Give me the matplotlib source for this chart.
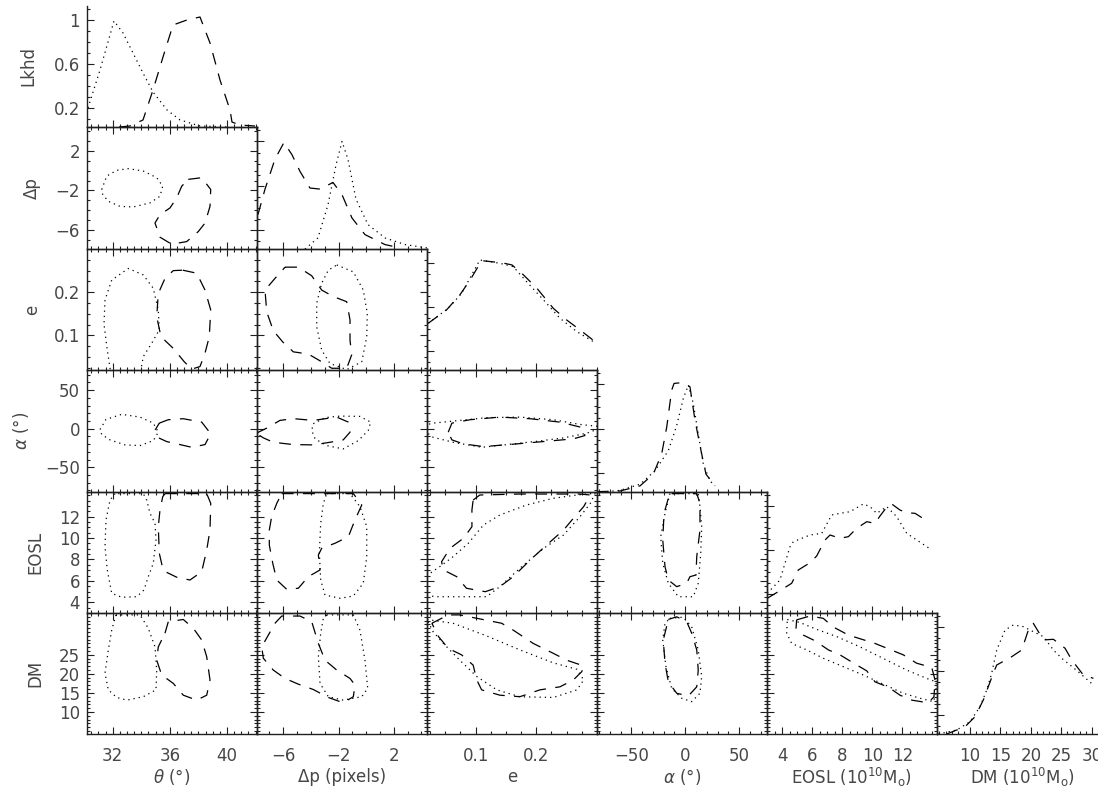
import matplotlib
matplotlib.use("Agg")
import matplotlib.pyplot as plt
from matplotlib.ticker import FixedLocator, MultipleLocator, FuncFormatter

plt.rcParams['font.family'] = ['DejaVu Sans']
plt.rcParams['mathtext.fontset'] = 'dejavusans'

# ---------------- axis definitions ----------------
x_limits = [(30.2, 42.1), (-7.9, 4.4), (0.02, 0.30), (-82, 76), (3.0, 14.3), (4.6, 32.5)]
y_limits = [(0.03, 1.13), (-7.9, 4.4), (0.02, 0.30), (-82, 76), (3.0, 14.3), (4.2, 36.0)]
x_major = [[32, 36, 40], [-6, -2, 2], [0.1, 0.2], [-50, 0, 50], [4, 6, 8, 10, 12], [10, 15, 20, 25, 30]]
y_major = [[0.2, 0.6, 1.0], [-6, -2, 2], [0.1, 0.2], [-50, 0, 50], [4, 6, 8, 10, 12], [10, 15, 20, 25]]
minor_step = [0.5, 1, 0.025, 10, 0.5, 1]
lk_minor = 0.1
x_titles = [r"$\theta$ (°)", "Δp (pixels)", "e", r"$\alpha$ (°)",
            r"EOSL (10$^{10}$M$_{\rm o}$)", r"DM (10$^{10}$M$_{\rm o}$)"]
y_titles = ["Lkhd", "Δp", "e", r"$\alpha$ (°)", "EOSL", "DM"]

# ---------------- 1-D likelihood profiles (diagonal) ----------------
lk_th_dot = [[30.27, 0.203], [31.11, 0.548], [32.09, 0.994], [32.72, 0.885], [33.42, 0.703],
             [34.12, 0.521], [34.82, 0.348], [35.8, 0.185], [36.71, 0.094], [38.11, 0.039], [40.2, 0.03]]
lk_th_dash = [[32.45, 0.03], [33.21, 0.039], [34.12, 0.094], [34.82, 0.366], [35.52, 0.666],
              [36.22, 0.957], [37.2, 1.003], [38.11, 1.03], [38.81, 0.794], [39.51, 0.457],
              [40.21, 0.185], [40.35, 0.075], [40.91, 0.048], [41.96, 0.039]]
lk_dp_dot = [[-4.43, 0.03], [-3.49, 0.13], [-2.76, 0.43], [-2.18, 0.79], [-1.75, 1.0], [-1.32, 0.84],
             [-0.74, 0.48], [0.13, 0.25], [1.36, 0.13], [2.81, 0.07], [4.4, 0.04]]
lk_dp_dash = [[-7.83, 0.34], [-7.32, 0.57], [-6.6, 0.84], [-5.95, 0.99], [-5.37, 0.88], [-4.79, 0.73],
              [-4.07, 0.58], [-3.34, 0.57], [-2.4, 0.63], [-1.75, 0.52], [-1.03, 0.31], [-0.09, 0.16],
              [1.36, 0.07], [2.45, 0.04]]
lk_e_dot = [[0.022, 0.455], [0.055, 0.591], [0.077, 0.727], [0.107, 1.03], [0.14, 1.0], [0.162, 0.97],
            [0.184, 0.833], [0.212, 0.666], [0.239, 0.5], [0.267, 0.378], [0.297, 0.278]]
lk_e_dash = [[0.022, 0.455], [0.052, 0.575], [0.074, 0.712], [0.091, 0.848], [0.11, 1.024],
             [0.143, 1.005], [0.16, 0.985], [0.179, 0.894], [0.201, 0.773], [0.228, 0.591],
             [0.25, 0.485], [0.272, 0.394], [0.297, 0.287]]
lk_al_dot = [[-82.3, 0.024], [-60.6, 0.045], [-42, 0.1], [-28.1, 0.221], [-15.7, 0.403], [-7.9, 0.63],
             [-1.8, 0.873], [2.9, 0.994], [7.5, 0.827], [12.1, 0.555], [16.8, 0.282], [23.0, 0.13],
             [27.7, 0.085]]
lk_al_dash = [[-82.3, 0.033], [-60.6, 0.039], [-42, 0.085], [-29.7, 0.191], [-21.9, 0.373],
              [-17.2, 0.615], [-12.6, 0.948], [-10.4, 1.009], [-4.2, 1.015], [4.4, 0.979],
              [9.1, 0.675], [15.3, 0.373], [19.3, 0.191], [27.7, 0.085]]
lk_eo_dot = [[3.02, 0.209], [3.86, 0.33], [4.53, 0.633], [4.75, 0.678], [5.86, 0.739], [6.64, 0.754],
             [7.3, 0.921], [7.85, 0.936], [8.52, 0.951], [9.4, 1.021], [9.85, 0.997], [10.29, 0.936],
             [10.96, 0.997], [11.62, 0.906], [12.29, 0.754], [12.95, 0.694], [13.95, 0.603]]
lk_eo_dash = [[3.02, 0.164], [3.75, 0.224], [4.64, 0.3], [5.08, 0.421], [5.86, 0.487], [6.3, 0.548],
              [6.86, 0.694], [7.19, 0.739], [7.85, 0.709], [8.41, 0.724], [8.96, 0.8], [9.63, 0.86],
              [10.18, 0.845], [10.51, 0.912], [11.07, 1.012], [11.29, 1.021], [11.84, 0.966],
              [12.29, 0.942], [12.84, 0.936], [13.62, 0.869]]
lk_dm_dot = [[4.82, 0.03], [7.83, 0.066], [10.02, 0.142], [11.66, 0.278], [12.76, 0.43], [13.58, 0.582],
             [14.4, 0.794], [15.77, 0.975], [17.13, 1.021], [18.77, 1.006], [20.41, 0.96], [22.06, 0.915],
             [23.7, 0.794], [25.07, 0.718], [26.44, 0.657], [28.08, 0.582], [30.27, 0.475]]
lk_dm_dash = [[6.19, 0.03], [9.2, 0.096], [10.84, 0.187], [12.2, 0.339], [13.84, 0.582], [14.4, 0.657],
              [16.87, 0.733], [18.51, 0.794], [19.87, 1.021], [20.41, 1.036], [22.06, 0.885],
              [23.7, 0.891], [25.62, 0.809], [26.72, 0.703], [28.62, 0.566], [30.27, 0.536]]

# ---------------- 2-D confidence contours (off-diagonal) ----------------
th_dp_dot = [[31.23, -1.9], [31.58, -0.55], [32.28, 0.03], [33.09, 0.2], [34.14, -0.04], [35.08, -0.71],
             [35.5, -1.56], [35.31, -2.58], [34.61, -3.25], [33.44, -3.66], [32.51, -3.6], [31.69, -3.09],
             [31.3, -2.4]]
th_dp_dash = [[37.29, -0.88], [38.23, -0.71], [38.86, -1.9], [38.81, -3.6], [38.46, -5.29], [37.99, -6.14],
              [37.18, -7.15], [36.13, -7.42], [35.31, -6.71], [34.96, -5.28], [35.31, -4.44],
              [36.01, -3.76], [36.48, -2.74], [36.83, -1.57]]
th_e_dot = [[31.88, 0.01], [31.62, 0.066], [31.39, 0.126], [31.46, 0.182], [31.93, 0.228], [33.09, 0.255],
            [34.14, 0.24], [34.84, 0.209], [35.19, 0.159], [35.26, 0.113], [34.73, 0.082], [34.14, 0.051],
            [33.91, 0.01]]
th_e_dash = [[36.9, 0.251], [37.88, 0.244], [38.46, 0.205], [38.86, 0.159], [38.76, 0.097], [38.46, 0.059],
             [38.11, 0.028], [37.53, 0.022], [37.01, 0.039], [36.24, 0.07], [35.38, 0.097], [35.08, 0.143],
             [35.19, 0.197], [35.66, 0.232], [36.24, 0.25]]
dp_e_dot = [[-2.13, 0.263], [-0.93, 0.247], [-0.21, 0.205], [0.08, 0.151], [0.04, 0.097], [-0.32, 0.039],
            [-1.41, 0.021], [-2.62, 0.035], [-3.22, 0.066], [-3.58, 0.12], [-3.58, 0.174], [-3.22, 0.221],
            [-2.74, 0.251]]
dp_e_dash = [[-5.87, 0.258], [-4.91, 0.258], [-3.94, 0.238], [-3.22, 0.205], [-2.38, 0.19], [-1.41, 0.178],
             [-1.17, 0.136], [-1.17, 0.089], [-1.05, 0.055], [-1.41, 0.024], [-2.49, 0.024], [-3.22, 0.039],
             [-4.19, 0.057], [-5.27, 0.062], [-6.04, 0.085], [-6.72, 0.111], [-7.2, 0.155], [-7.32, 0.205],
             [-6.6, 0.232]]
th_al_dot = [[31.11, -1.0], [31.53, 12.0], [32.63, 18.6], [33.91, 15.0], [34.84, 7.2], [35.19, -4.5],
             [34.84, -15.4], [33.91, -21.9], [32.86, -21.0], [31.81, -14.5], [31.23, -7.5]]
th_al_dash = [[35.26, 7.2], [35.89, 11.6], [36.94, 12.9], [38.23, 8.5], [38.86, -6.6], [38.46, -20.6],
              [37.53, -24.1], [36.71, -20.6], [35.78, -16.7], [35.12, -11.1], [34.98, -1.4]]
dp_al_dot = [[-3.83, 6.4], [-2.98, 14.3], [-1.89, 16.3], [-0.45, 15.9], [0.33, 8.5], [0.15, -2.3],
             [-0.57, -15.4], [-1.66, -26.2], [-2.86, -21.9], [-3.7, -13.2], [-3.94, -2.3]]
dp_al_dash = [[-7.95, -5.9], [-7.2, 0.7], [-6.24, 10.7], [-5.27, 13.0], [-3.83, 10.7], [-2.13, 15.0],
              [-1.29, 8.5], [-1.17, -4.5], [-1.66, -14.5], [-2.62, -17.6], [-3.83, -21.0], [-5.27, -20.6],
              [-6.72, -17.6], [-7.44, -11.9]]
e_al_dot = [[0.015, 4.2], [0.03, 7.2], [0.063, 9.8], [0.118, 14.3], [0.173, 15.0], [0.228, 11.6],
            [0.272, 5.5], [0.303, 2.9], [0.303, -0.1], [0.283, -5.9], [0.245, -11.9], [0.201, -16.3],
            [0.152, -20.6], [0.11, -24.1], [0.063, -17.6], [0.03, -11.1], [0.015, -2.3]]
e_al_dash = [[0.055, -4.5], [0.061, 7.2], [0.091, 11.6], [0.14, 15.0], [0.19, 12.9], [0.239, 8.5],
             [0.277, 1.2], [0.28, -8.9], [0.261, -13.2], [0.217, -16.3], [0.168, -19.7], [0.113, -23.2],
             [0.08, -19.7], [0.061, -14.5]]
th_eo_dot = [[32.16, 14.15], [31.81, 13.55], [31.53, 11.69], [31.46, 9.19], [31.62, 7.02], [31.93, 4.84],
             [32.63, 4.47], [33.68, 4.52], [34.19, 5.15], [34.49, 6.39], [34.84, 7.64], [35.03, 9.82],
             [34.96, 11.38], [34.61, 12.31], [34.38, 13.55], [34.14, 14.15]]
th_eo_dash = [[35.66, 14.15], [38.58, 14.15], [38.86, 13.24], [38.81, 10.75], [38.58, 8.88], [38.23, 6.86],
              [37.41, 6.08], [36.48, 6.34], [35.54, 6.95], [35.26, 8.58], [35.19, 11.06], [35.31, 12.62],
              [35.5, 13.86]]
dp_eo_dot = [[-2.86, 14.15], [-1.17, 14.15], [-0.45, 12.93], [0.04, 11.06], [0.04, 8.26], [-0.21, 5.78],
             [-0.93, 4.59], [-1.89, 4.37], [-2.98, 4.68], [-3.29, 6.08], [-3.39, 8.58], [-3.29, 11.38],
             [-3.1, 13.24]]
dp_eo_dash = [[-6.11, 14.15], [-0.93, 14.15], [-0.32, 13.09], [-0.81, 11.69], [-1.29, 10.13], [-2.26, 9.51],
              [-3.22, 9.04], [-3.46, 8.42], [-3.34, 7.02], [-4.19, 6.39], [-4.91, 5.31], [-5.75, 5.21],
              [-6.47, 6.08], [-6.76, 7.64], [-7.01, 9.35], [-7.01, 10.75], [-6.84, 11.99], [-6.47, 13.24]]
e_eo_dot = [[0.012, 6.2], [0.041, 7.33], [0.063, 8.26], [0.088, 9.51], [0.113, 11.22], [0.14, 12.15],
            [0.184, 13.09], [0.228, 13.71], [0.267, 14.02], [0.297, 14.18], [0.289, 13.24], [0.272, 11.99],
            [0.245, 10.29], [0.212, 9.04], [0.173, 7.18], [0.14, 5.46], [0.118, 4.52], [0.074, 4.52],
            [0.036, 4.52], [0.012, 4.68]]
e_eo_dash = [[0.096, 13.55], [0.107, 14.02], [0.173, 14.11], [0.272, 14.11], [0.289, 14.02], [0.278, 12.93],
             [0.261, 11.84], [0.245, 10.75], [0.217, 9.35], [0.19, 7.95], [0.162, 6.39], [0.14, 5.46],
             [0.116, 4.99], [0.085, 5.31], [0.069, 6.39], [0.047, 7.02], [0.044, 7.79], [0.058, 9.04],
             [0.08, 9.98], [0.094, 11.06], [0.094, 12.62]]
al_eo_dot = [[-14.2, 14.15], [-18.8, 12.31], [-22.8, 10.13], [-20.9, 7.64], [-15.7, 5.78], [-6.4, 4.52],
             [7.5, 4.52], [12.1, 5.78], [14.4, 8.58], [15.3, 11.06], [13.7, 12.93], [12.1, 14.15]]
al_eo_dash = [[-12.6, 14.15], [10.7, 14.15], [13.7, 13.24], [13.7, 10.75], [10.7, 8.26], [10.0, 6.55],
              [4.4, 6.39], [1.4, 5.78], [-7.9, 5.46], [-15.7, 6.08], [-18.8, 7.33], [-20.9, 9.82],
              [-19.7, 12.31], [-15.7, 13.71]]
th_dm_dot = [[32.23, 35.5], [31.93, 31.5], [31.69, 26.2], [31.46, 20.2], [31.69, 15.8], [32.28, 13.8],
             [32.98, 13.1], [34.14, 14.0], [35.03, 15.8], [35.08, 21.0], [34.96, 27.1], [34.49, 32.0],
             [33.91, 35.5]]
th_dm_dash = [[35.66, 30.7], [35.89, 33.7], [36.94, 34.3], [37.64, 32.0], [38.23, 28.9], [38.58, 24.5],
              [38.81, 18.4], [38.58, 14.4], [37.88, 13.1], [36.94, 14.4], [36.24, 17.5], [35.43, 19.7],
              [35.08, 23.6], [35.19, 27.1]]
dp_dm_dot = [[-2.86, 35.5], [-0.93, 35.5], [-0.45, 31.5], [-0.09, 23.6], [0.11, 16.2], [-0.32, 14.0],
             [-1.66, 13.1], [-2.74, 14.0], [-3.34, 17.5], [-3.46, 24.5], [-3.29, 30.7], [-3.1, 34.6]]
dp_dm_dash = [[-6.6, 33.3], [-6.11, 35.2], [-4.79, 35.2], [-3.94, 33.7], [-3.46, 28.0], [-2.98, 23.6],
              [-2.13, 21.0], [-1.17, 18.8], [-0.81, 17.1], [-0.93, 14.0], [-1.66, 12.4], [-2.74, 13.8],
              [-3.83, 15.9], [-4.91, 17.3], [-5.87, 18.8], [-6.72, 21.0], [-7.44, 24.1], [-7.56, 27.1],
              [-7.08, 30.2]]
e_dm_dot = [[0.02, 34.3], [0.063, 33.3], [0.118, 30.0], [0.173, 26.3], [0.228, 22.9], [0.267, 21.2],
            [0.278, 18.4], [0.267, 15.8], [0.228, 13.8], [0.173, 14.0], [0.135, 15.8], [0.102, 19.3],
            [0.074, 23.6], [0.047, 28.0], [0.03, 31.1]]
e_dm_dash = [[0.028, 33.3], [0.055, 35.5], [0.074, 35.5], [0.143, 33.3], [0.162, 31.5], [0.195, 28.0],
             [0.228, 25.4], [0.25, 23.6], [0.278, 22.1], [0.275, 20.6], [0.261, 18.4], [0.239, 16.6],
             [0.206, 15.8], [0.173, 14.0], [0.14, 14.4], [0.11, 15.8], [0.102, 18.4], [0.096, 22.3],
             [0.077, 25.0], [0.055, 26.7], [0.039, 29.8]]
al_dm_dot = [[-14.2, 34.6], [-1.8, 34.9], [6.0, 32.4], [12.1, 26.3], [15.3, 19.3], [13.7, 14.9], [6.0, 12.7],
             [-3.3, 13.6], [-12.6, 16.2], [-17.9, 21.9], [-20.9, 28.9], [-18.8, 33.3]]
al_dm_dash = [[-15.7, 34.3], [-7.9, 35.0], [1.4, 33.7], [6.0, 30.7], [10.7, 26.3], [12.1, 21.0],
              [10.7, 16.6], [2.9, 14.2], [-7.9, 14.9], [-15.7, 17.9], [-18.8, 22.8], [-20.4, 28.9]]
eo_dm_dot = [[4.35, 34.3], [5.19, 33.5], [6.3, 31.7], [7.63, 29.8], [9.18, 27.1], [10.96, 23.6],
             [12.29, 21.0], [13.62, 18.8], [14.24, 17.9], [14.24, 14.9], [14.06, 12.7], [13.17, 13.6],
             [12.06, 14.9], [10.73, 17.3], [9.4, 19.7], [8.07, 21.9], [6.74, 24.1], [5.64, 26.3],
             [4.64, 28.0], [4.31, 30.7]]
eo_dm_dash = [[4.97, 34.2], [5.86, 35.2], [6.74, 34.6], [7.37, 32.4], [8.41, 30.2], [10.18, 28.0],
              [12.06, 25.0], [12.95, 22.8], [13.95, 21.7], [14.17, 18.4], [14.1, 14.0], [13.72, 12.4],
              [12.62, 13.1], [11.84, 14.4], [11.07, 16.5], [10.18, 17.9], [9.63, 20.8], [8.85, 22.6],
              [7.85, 25.0], [7.08, 26.3], [6.19, 28.7], [5.41, 30.2], [4.93, 32.0]]

diag_curves = {0: (lk_th_dot, lk_th_dash), 1: (lk_dp_dot, lk_dp_dash), 2: (lk_e_dot, lk_e_dash),
               3: (lk_al_dot, lk_al_dash), 4: (lk_eo_dot, lk_eo_dash), 5: (lk_dm_dot, lk_dm_dash)}
contours = {(1, 0): (th_dp_dot, th_dp_dash),
            (2, 0): (th_e_dot, th_e_dash), (2, 1): (dp_e_dot, dp_e_dash),
            (3, 0): (th_al_dot, th_al_dash), (3, 1): (dp_al_dot, dp_al_dash), (3, 2): (e_al_dot, e_al_dash),
            (4, 0): (th_eo_dot, th_eo_dash), (4, 1): (dp_eo_dot, dp_eo_dash), (4, 2): (e_eo_dot, e_eo_dash),
            (4, 3): (al_eo_dot, al_eo_dash),
            (5, 0): (th_dm_dot, th_dm_dash), (5, 1): (dp_dm_dot, dp_dm_dash), (5, 2): (e_dm_dot, e_dm_dash),
            (5, 3): (al_dm_dot, al_dm_dash), (5, 4): (eo_dm_dot, eo_dm_dash)}

# ---------------- layout ----------------
W, H = 1098, 792
fig = plt.figure(figsize=(W / 100, H / 100), dpi=100)
col_edges = [87, 257, 427, 597, 767, 937, 1107]
row_edges = [6, 127, 249, 370, 492, 613, 734]
INK = '#202020'
TXT = '#474747'
FS = 12
DOT = (0, (1.0, 3.2))
DASH = (0, (9.5, 7.5))
LW = 0.9


def fmt(v, p):
    return ('%g' % v).replace('-', '\u2212')


def add_ax(r, c):
    l = col_edges[c] / W
    w = (col_edges[c + 1] - col_edges[c]) / W
    b = 1 - row_edges[r + 1] / H
    h = (row_edges[r + 1] - row_edges[r]) / H
    ax = fig.add_axes([l, b, w, h])
    ax.set_facecolor('none')
    return ax


def style(ax, xmaj, xmin, ymaj, ymin, xlab, ylab, box=True):
    ax.xaxis.set_major_locator(FixedLocator(xmaj))
    ax.xaxis.set_minor_locator(MultipleLocator(xmin))
    ax.yaxis.set_major_locator(FixedLocator(ymaj))
    ax.yaxis.set_minor_locator(MultipleLocator(ymin))
    ax.xaxis.set_major_formatter(FuncFormatter(fmt))
    ax.yaxis.set_major_formatter(FuncFormatter(fmt))
    ax.tick_params(which='both', direction='in', colors=INK, width=0.8,
                   top=box, right=box, labelbottom=xlab, labelleft=ylab,
                   labelsize=FS, labelcolor=TXT)
    ax.tick_params(which='major', length=5)
    ax.tick_params(which='minor', length=2.5)
    ax.tick_params(axis='x', pad=9.5)
    ax.tick_params(axis='y', pad=5)
    for s in ['top', 'right', 'left', 'bottom']:
        ax.spines[s].set_color(INK)
        ax.spines[s].set_linewidth(1.0)
    if not box:
        ax.spines['top'].set_visible(False)
        ax.spines['right'].set_visible(False)


for r in range(6):
    for c in range(r + 1):
        ax = add_ax(r, c)
        ax.set_xlim(*x_limits[c])
        if r == c:
            ax.set_ylim(*y_limits[0])
            dot, dash = diag_curves[r]
            ax.plot([p[0] for p in dot], [p[1] for p in dot], color='black', lw=LW, ls=DOT)
            ax.plot([p[0] for p in dash], [p[1] for p in dash], color='black', lw=LW, ls=DASH)
            style(ax, x_major[c], minor_step[c], y_major[0], lk_minor,
                  xlab=(r == 5), ylab=(r == 0), box=False)
        else:
            ax.set_ylim(*y_limits[r])
            dot, dash = contours[(r, c)]
            for pts, ls in ((dot, DOT), (dash, DASH)):
                xs = [p[0] for p in pts] + [pts[0][0]]
                ys = [p[1] for p in pts] + [pts[0][1]]
                ax.plot(xs, ys, color='black', lw=LW, ls=ls)
            style(ax, x_major[c], minor_step[c], y_major[r], minor_step[r],
                  xlab=(r == 5), ylab=(c == 0), box=True)
        ax.set_xlim(*x_limits[c])

# axis titles
ylab_x = [28, 32, 32, 21, 35, 35]
for r in range(6):
    yc = (row_edges[r] + row_edges[r + 1]) / 2
    fig.text(ylab_x[r] / W, 1 - yc / H, y_titles[r], rotation=90, ha='center', va='center',
             fontsize=FS, color=TXT)
for c in range(6):
    xc = (col_edges[c] + col_edges[c + 1]) / 2
    fig.text(xc / W, 1 - 777 / H, x_titles[c], ha='center', va='center', fontsize=FS, color=TXT)

fig.savefig('out.png', dpi=100)
